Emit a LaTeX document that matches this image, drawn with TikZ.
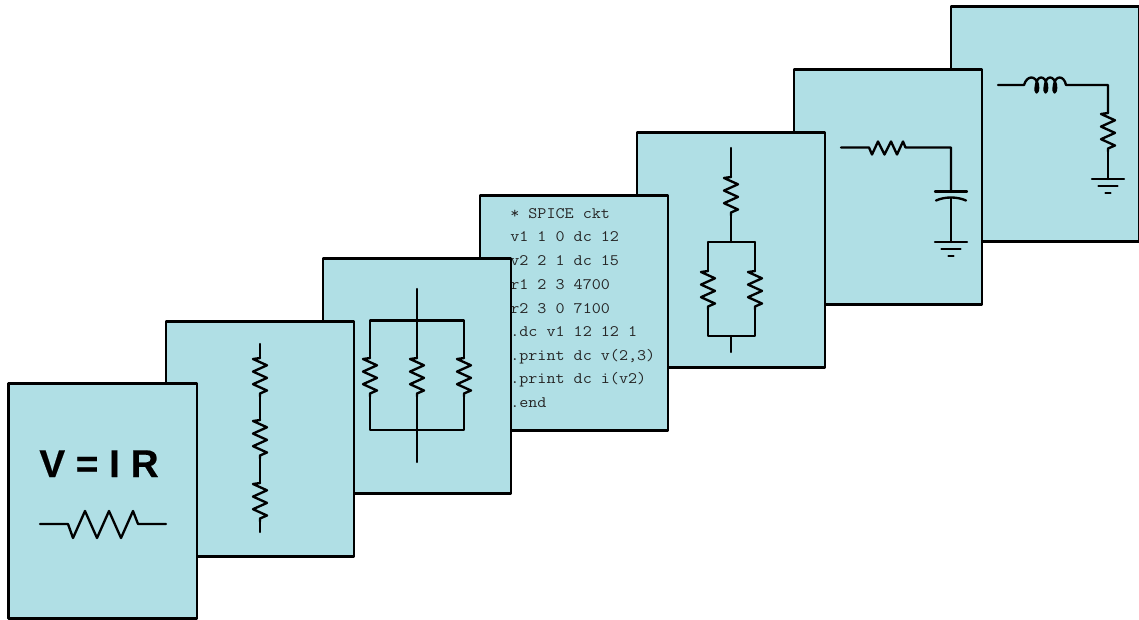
\documentclass[tikz,border=0pt]{standalone}
\usepackage{fontspec}
\setmainfont{Liberation Sans}
\newfontfamily\lawfont[UprightFont=* Bold,FakeBold=0.5]{Liberation Sans}
\newfontfamily\spicefont[FakeStretch=1.1]{Latin Modern Mono}
\tikzset{
 card/.style={draw=black,fill=cardblue,line width=1.7pt,line join=round},
 wire/.style={draw=black,line width=1.75pt,line join=round,line cap=round},
 spice/.style={font=\spicefont\fontsize{12pt}{12pt}\selectfont,text=black!85,anchor=base west,inner sep=0pt},
}
\definecolor{cardblue}{HTML}{B0DFE5}
% vertical resistor, centre x, top y
\newcommand{\vres}[2]{\draw[wire] (#1,#2) -- ++(-7,1) -- ++(14,6.3) -- ++(-14,6.3) -- ++(14,6.3) -- ++(-14,6.3) -- ++(14,6.3) -- ++(-7,3) -- ++(0,3);}
% ground symbol, x, y
\newcommand{\gnd}[2]{\draw[wire] (#1-16,#2) -- (#1+16,#2) (#1-9.5,#2+7) -- (#1+9.5,#2+7) (#1-2.5,#2+14) -- (#1+2.5,#2+14);}
\begin{document}
\begin{tikzpicture}[x=0.75pt,y=-0.75pt]
\useasboundingbox (0,0) rectangle (1139,620);
% card 7
\path[card] (951,6.5) rectangle (1139,241.5);
\draw[wire] (998,85) -- (1024,85) .. controls (1027,75) and (1036,75) .. (1038,85) .. controls (1039,95) and (1034,95) .. (1036,85) .. controls (1037,75) and (1045,75) .. (1047,85) .. controls (1048,95) and (1043,95) .. (1045,85) .. controls (1046,75) and (1054,75) .. (1056,85) .. controls (1057,95) and (1052,95) .. (1054,85) .. controls (1055,75) and (1064,75) .. (1066,85) -- (1108,85) -- (1108,113);
\vres{1108}{113}
\draw[wire] (1108,151) -- (1108,179);
\gnd{1108}{179}
% card 6
\path[card] (794,69.5) rectangle (982,304.5);
\draw[wire] (841,147.5) -- (869,147.5) -- ++(3,7) -- ++(6,-13) -- ++(6.5,13) -- ++(6.5,-13) -- ++(6,13) -- ++(6,-13) -- ++(2.5,6) -- (951,147.5) -- (951,192);
\draw[wire] (935,191.5) -- (967,191.5);
\draw[wire] (936,200.5) .. controls (945,196.5) and (957,196.5) .. (966,200.5);
\draw[wire] (951,198) -- (951,242);
\gnd{951}{242}
% card 5
\path[card] (637,132.5) rectangle (825,367.5);
\draw[wire] (731,148) -- (731,177);
\vres{731}{177}
\draw[wire] (731,215) -- (731,242) (708,242) -- (755,242) (708,242) -- (708,271) (755,242) -- (755,271);
\vres{708}{271}
\vres{755}{271}
\draw[wire] (708,309) -- (708,336) -- (755,336) -- (755,309) (731,336) -- (731,352);
% card 4
\path[card] (480,195.5) rectangle (668,430.5);
\node[spice] (s1) at (510,218.5) {* SPICE ckt};
\node[spice] (s2) at (510,242) {v1 1 0 dc 12};
\node[spice] (s3) at (510,265.5) {v2 2 1 dc 15};
\node[spice] (s4) at (510,289.5) {r1 2 3 4700};
\node[spice] (s5) at (510,313.5) {r2 3 0 7100};
\node[spice] (s6) at (510,336.5) {.dc v1 12 12 1};
\node[spice] (s7) at (510,360.5) {.print dc v(2,3)};
\node[spice] (s8) at (510,383.5) {.print dc i(v2)};
\node[spice] (s9) at (510,407.5) {.end};
% card 3
\path[card] (323,258.5) rectangle (511,493.5);
\draw[wire] (417,289) -- (417,358);
\draw[wire] (370,358) -- (370,320.5) -- (464,320.5) -- (464,358);
\vres{370}{358}
\vres{417}{358}
\vres{464}{358}
\draw[wire] (370,396) -- (370,430) -- (464,430) -- (464,396);
\draw[wire] (417,396) -- (417,462);
% card 2
\path[card] (166,321.5) rectangle (354,556.5);
\draw[wire] (260,344) -- (260,358);
\vres{260}{358}
\draw[wire] (260,396) -- (260,420);
\vres{260}{420}
\draw[wire] (260,458) -- (260,483);
\vres{260}{483}
\draw[wire] (260,521) -- (260,532);
% card 1
\path[card] (8.5,383.5) rectangle (197,618.5);
\node[font=\lawfont\fontsize{29pt}{29pt}\selectfont,anchor=base,inner sep=0pt] (law) at (99,477) {V = I R};
\draw[wire] (40,524) -- (68,524) -- (73,538) -- (85,511) -- (97,538) -- (109,511) -- (121,538) -- (133,511) -- (138,524) -- (166,524);
\end{tikzpicture}
\end{document}
